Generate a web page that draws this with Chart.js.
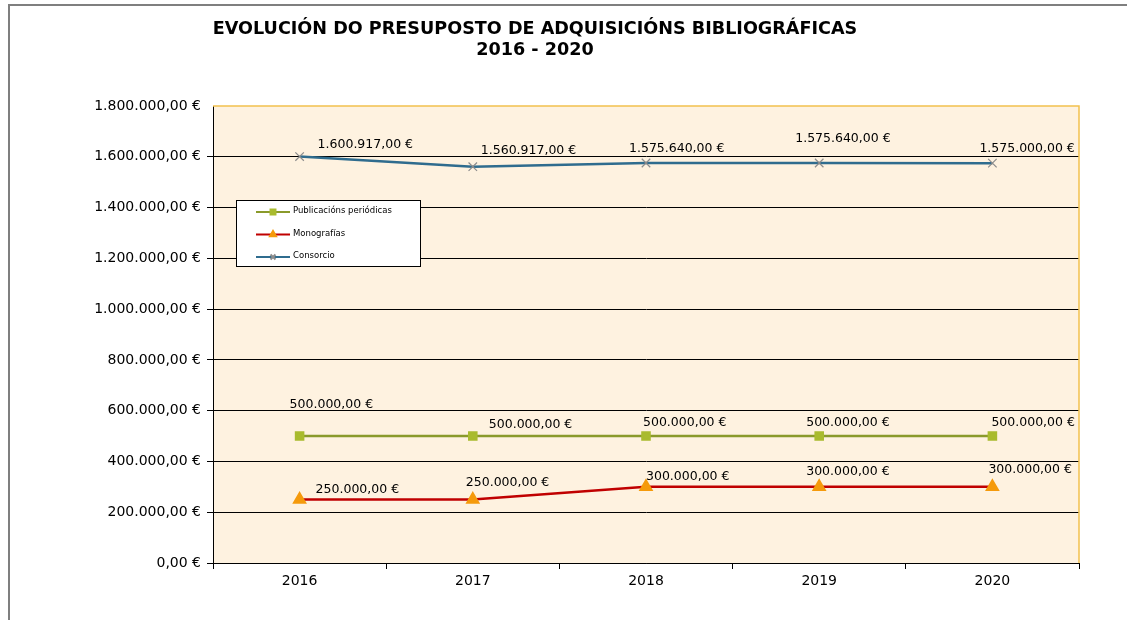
<!DOCTYPE html>
<html>
<head>
<meta charset="utf-8">
<script src="https://cdn.jsdelivr.net/npm/chart.js@4.4.1/dist/chart.umd.min.js"></script>
<style>
  body { margin: 0; background: #fff; }
  #wrap { position: relative; width: 1127px; height: 620px; }
</style>
</head>
<body>
<div id="wrap"><canvas id="budgetChart" width="1127" height="620"></canvas></div>
<script>
// data
const years = ['2016', '2017', '2018', '2019', '2020'];
const publicacions = [500000, 500000, 500000, 500000, 500000];
const monografias = [250000, 250000, 300000, 300000, 300000];
const consorcio = [1600917, 1560917, 1575640, 1575640, 1575000];
const titleLines = ['EVOLUCIÓN DO PRESUPOSTO DE ADQUISICIÓNS BIBLIOGRÁFICAS', '2016 - 2020'];

// where Excel put each data label, relative to the point (left x, baseline y)
const labelOffsets = [
  [[-10, -28], [16, -8], [-3, -10], [-13, -10], [-1, -10]],
  [[16, -7], [-7, -14], [0, -7], [-13, -12], [-4, -14]],
  [[18, -9], [8, -13], [-17, -11], [-24, -21], [-13, -11]]
];

const euro = v => v.toLocaleString('de-DE', { minimumFractionDigits: 2, maximumFractionDigits: 2 }) + ' €';
const FONT = '"DejaVu Sans", Verdana, sans-serif';

const framePlugin = {
  id: 'frame',
  beforeDraw(chart) {
    const { ctx, chartArea: a } = chart;
    ctx.save();
    ctx.fillStyle = '#FEF2E0';
    ctx.fillRect(a.left, a.top, a.right - a.left, a.bottom - a.top);
    // outer page border
    ctx.strokeStyle = '#7f7f7f';
    ctx.lineWidth = 2;
    ctx.beginPath();
    ctx.moveTo(1127, 5);
    ctx.lineTo(9, 5);
    ctx.lineTo(9, 620);
    ctx.stroke();
    // title
    ctx.fillStyle = '#000';
    ctx.font = 'bold 17.6px ' + FONT;
    ctx.textAlign = 'center';
    ctx.textBaseline = 'middle';
    ctx.fillText(titleLines[0], 535, 29);
    ctx.fillText(titleLines[1], 535, 50);
    ctx.restore();
  },
  beforeDatasetsDraw(chart) {
    const { ctx, chartArea: a } = chart;
    ctx.save();
    ctx.strokeStyle = '#F2C14E';
    ctx.lineWidth = 1.5;
    ctx.beginPath();
    ctx.moveTo(a.left, a.top);
    ctx.lineTo(a.right, a.top);
    ctx.lineTo(a.right, a.bottom);
    ctx.stroke();
    ctx.restore();
  },
  afterDatasetsDraw(chart) {
    const { ctx } = chart;
    ctx.save();
    ctx.font = '12.5px ' + FONT;
    ctx.fillStyle = '#000';
    ctx.textAlign = 'left';
    ctx.textBaseline = 'alphabetic';
    chart.data.datasets.forEach((ds, di) => {
      const meta = chart.getDatasetMeta(di);
      meta.data.forEach((pt, i) => {
        const off = labelOffsets[di][i];
        ctx.fillText(euro(ds.data[i]), pt.x + off[0], pt.y + off[1]);
      });
    });

    // legend box
    const lx = 236, ly = 200, lw = 184, lh = 66;
    ctx.fillStyle = '#fff';
    ctx.fillRect(lx, ly, lw, lh);
    ctx.strokeStyle = '#000';
    ctx.lineWidth = 1;
    ctx.strokeRect(lx + 0.5, ly + 0.5, lw, lh);
    ctx.font = '8.5px ' + FONT;
    ctx.textBaseline = 'middle';
    chart.data.datasets.forEach((ds, di) => {
      const y = ly + 11 + di * 22.5;
      ctx.strokeStyle = ds.borderColor;
      ctx.lineWidth = 2;
      ctx.beginPath();
      ctx.moveTo(lx + 20, y + 1);
      ctx.lineTo(lx + 54, y + 1);
      ctx.stroke();
      ctx.fillStyle = ds.pointBackgroundColor;
      ctx.strokeStyle = ds.pointBorderColor;
      Chart.helpers.drawPoint(ctx, { pointStyle: ds.pointStyle, radius: 3.5, borderWidth: 1 }, lx + 37, y + 1);
      ctx.fillStyle = '#000';
      ctx.fillText(ds.label, lx + 57, y);
    });
    ctx.restore();
  }
};

new Chart(document.getElementById('budgetChart'), {
  type: 'line',
  data: {
    labels: years,
    datasets: [
      {
        label: 'Publicacións periódicas',
        data: publicacions,
        borderColor: '#8A9A2B',
        borderWidth: 2.5,
        pointStyle: 'rect',
        pointRadius: 5,
        pointBackgroundColor: '#A9BB2E',
        pointBorderColor: '#A9BB2E',
        tension: 0
      },
      {
        label: 'Monografías',
        data: monografias,
        borderColor: '#C00000',
        borderWidth: 2.5,
        pointStyle: 'triangle',
        pointRadius: 6,
        pointBackgroundColor: '#F59A0B',
        pointBorderColor: '#F59A0B',
        tension: 0
      },
      {
        label: 'Consorcio',
        data: consorcio,
        borderColor: '#2F6C8E',
        borderWidth: 2.5,
        pointStyle: 'crossRot',
        pointRadius: 6,
        pointBorderWidth: 1.2,
        pointBackgroundColor: '#8c8c8c',
        pointBorderColor: '#8c8c8c',
        tension: 0
      }
    ]
  },
  options: {
    responsive: false,
    animation: false,
    layout: { padding: { top: 106, right: 48, bottom: 17, left: 0 } },
    plugins: {
      legend: { display: false },
      title: { display: false },
      tooltip: { enabled: false }
    },
    scales: {
      x: {
        offset: true,
        afterFit: s => { s.height = 40; },
        border: { color: '#000', width: 1 },
        grid: { offset: true, drawOnChartArea: false, tickLength: 6, color: '#000' },
        ticks: { color: '#000', font: { family: FONT, size: 14 }, padding: 4 }
      },
      y: {
        min: 0,
        max: 1800000,
        afterFit: s => { s.width = 213; },
        border: { color: '#000', width: 1 },
        grid: {
          tickLength: 6,
          color: c => (c.tick && c.tick.value === 1800000 ? 'rgba(0,0,0,0)' : '#000')
        },
        ticks: {
          stepSize: 200000,
          color: '#000',
          padding: 6,
          font: { family: FONT, size: 14 },
          callback: v => euro(v)
        }
      }
    }
  },
  plugins: [framePlugin]
});
</script>
</body>
</html>
